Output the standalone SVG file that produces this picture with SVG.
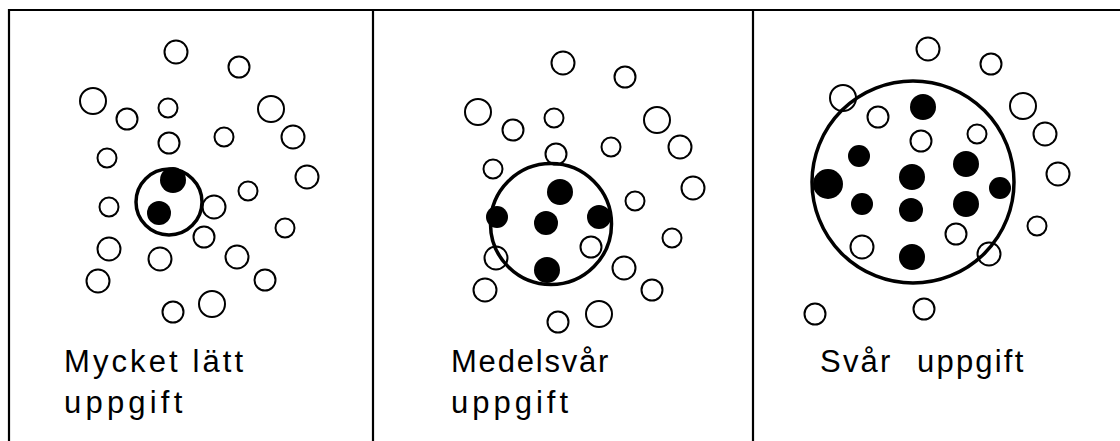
<svg xmlns="http://www.w3.org/2000/svg" width="1120" height="441" viewBox="0 0 1120 441">
<style>
.o{fill:#fff;stroke:#000;stroke-width:2}
.f{fill:#000;stroke:none}
.big{fill:none;stroke:#000;stroke-width:3.5}
.frame{stroke:#000;stroke-width:2.2;fill:none}
text{font-family:"Liberation Sans",Arial,sans-serif;font-size:31px;fill:#000}
</style>
<rect width="1120" height="441" fill="#fff"/>
<g id="frame">
<line class="frame" x1="9" y1="10" x2="1120" y2="10"/>
<line class="frame" x1="9" y1="9" x2="9" y2="441"/>
<line class="frame" x1="373" y1="10" x2="373" y2="441"/>
<line class="frame" x1="753" y1="10" x2="753" y2="441"/>
</g>
<g id="panel-easy">
<circle class="o" cx="176" cy="52" r="11.5"/>
<circle class="o" cx="239" cy="67" r="10.5"/>
<circle class="o" cx="93" cy="101" r="13"/>
<circle class="o" cx="127" cy="119" r="10.5"/>
<circle class="o" cx="168" cy="108" r="9.5"/>
<circle class="o" cx="271" cy="109" r="13"/>
<circle class="o" cx="293" cy="137" r="11.5"/>
<circle class="o" cx="224" cy="137" r="9.5"/>
<circle class="o" cx="169" cy="143" r="10.5"/>
<circle class="o" cx="107" cy="158" r="9.5"/>
<circle class="o" cx="307" cy="177" r="11.5"/>
<circle class="o" cx="248" cy="191" r="9.5"/>
<circle class="o" cx="109" cy="207" r="9.5"/>
<circle class="o" cx="214" cy="207" r="11.5"/>
<circle class="o" cx="285" cy="228" r="9.5"/>
<circle class="o" cx="204" cy="237" r="10.5"/>
<circle class="o" cx="109" cy="249" r="11.5"/>
<circle class="o" cx="160" cy="259" r="11.5"/>
<circle class="o" cx="237" cy="257" r="11.5"/>
<circle class="o" cx="265" cy="280" r="10.5"/>
<circle class="o" cx="98" cy="281" r="11.5"/>
<circle class="o" cx="173" cy="312" r="10.5"/>
<circle class="o" cx="212" cy="304" r="13"/>
<circle class="big" cx="169" cy="202" r="33"/>
<circle class="f" cx="173" cy="180" r="13"/>
<circle class="f" cx="159" cy="213" r="12"/>
<text x="64" y="372" letter-spacing="3.1">Mycket lätt</text>
<text x="64" y="413" letter-spacing="4.2">uppgift</text>
</g>
<g id="panel-medium">
<circle class="o" cx="563" cy="63" r="11.5"/>
<circle class="o" cx="625" cy="77" r="10.5"/>
<circle class="o" cx="478" cy="112" r="13"/>
<circle class="o" cx="513" cy="130" r="10.5"/>
<circle class="o" cx="554" cy="118" r="9.5"/>
<circle class="o" cx="657" cy="120" r="13"/>
<circle class="o" cx="680" cy="147" r="11.5"/>
<circle class="o" cx="611" cy="147" r="9.5"/>
<circle class="o" cx="556" cy="154" r="10.5"/>
<circle class="o" cx="493" cy="169" r="9.5"/>
<circle class="o" cx="693" cy="188" r="11.5"/>
<circle class="o" cx="635" cy="201" r="9.5"/>
<circle class="o" cx="672" cy="238" r="9.5"/>
<circle class="o" cx="624" cy="268" r="11.5"/>
<circle class="o" cx="485" cy="290" r="11.5"/>
<circle class="o" cx="652" cy="290" r="10.5"/>
<circle class="o" cx="558" cy="322" r="10.5"/>
<circle class="o" cx="599" cy="314" r="13"/>
<circle class="o" cx="496" cy="258" r="11.5"/>
<circle class="o" cx="591" cy="247" r="10.5"/>
<circle class="big" cx="551" cy="224" r="60.5"/>
<circle class="f" cx="560" cy="192" r="13"/>
<circle class="f" cx="497" cy="217" r="11"/>
<circle class="f" cx="546" cy="223" r="12"/>
<circle class="f" cx="599" cy="217" r="12"/>
<circle class="f" cx="547" cy="270" r="13"/>
<text x="451" y="372" letter-spacing="1.8">Medelsvår</text>
<text x="451" y="413" letter-spacing="4">uppgift</text>
</g>
<g id="panel-hard">
<circle class="o" cx="928" cy="49" r="11.5"/>
<circle class="o" cx="991" cy="64" r="10.5"/>
<circle class="o" cx="843" cy="98" r="13"/>
<circle class="o" cx="878" cy="117" r="10.5"/>
<circle class="o" cx="1023" cy="106" r="13"/>
<circle class="o" cx="977" cy="134" r="9.5"/>
<circle class="o" cx="921" cy="141" r="10.5"/>
<circle class="o" cx="1045" cy="134" r="11.5"/>
<circle class="o" cx="1058" cy="174" r="11.5"/>
<circle class="o" cx="1037" cy="226" r="9.5"/>
<circle class="o" cx="956" cy="234" r="10.5"/>
<circle class="o" cx="862" cy="247" r="11.5"/>
<circle class="o" cx="989" cy="254" r="11.5"/>
<circle class="o" cx="815" cy="314" r="10.5"/>
<circle class="o" cx="924" cy="309" r="10.5"/>
<circle class="big" cx="913" cy="182" r="101"/>
<circle class="f" cx="923" cy="107" r="13"/>
<circle class="f" cx="859" cy="156" r="11"/>
<circle class="f" cx="966" cy="164" r="13"/>
<circle class="f" cx="912" cy="177" r="13"/>
<circle class="f" cx="828" cy="184" r="15"/>
<circle class="f" cx="1000" cy="188" r="11"/>
<circle class="f" cx="862" cy="204" r="11"/>
<circle class="f" cx="911" cy="210" r="12"/>
<circle class="f" cx="966" cy="204" r="13"/>
<circle class="f" cx="912" cy="257" r="13"/>
<text x="820" y="372" letter-spacing="2.2">Svår <tspan x="917">uppgift</tspan></text>
</g>
</svg>
